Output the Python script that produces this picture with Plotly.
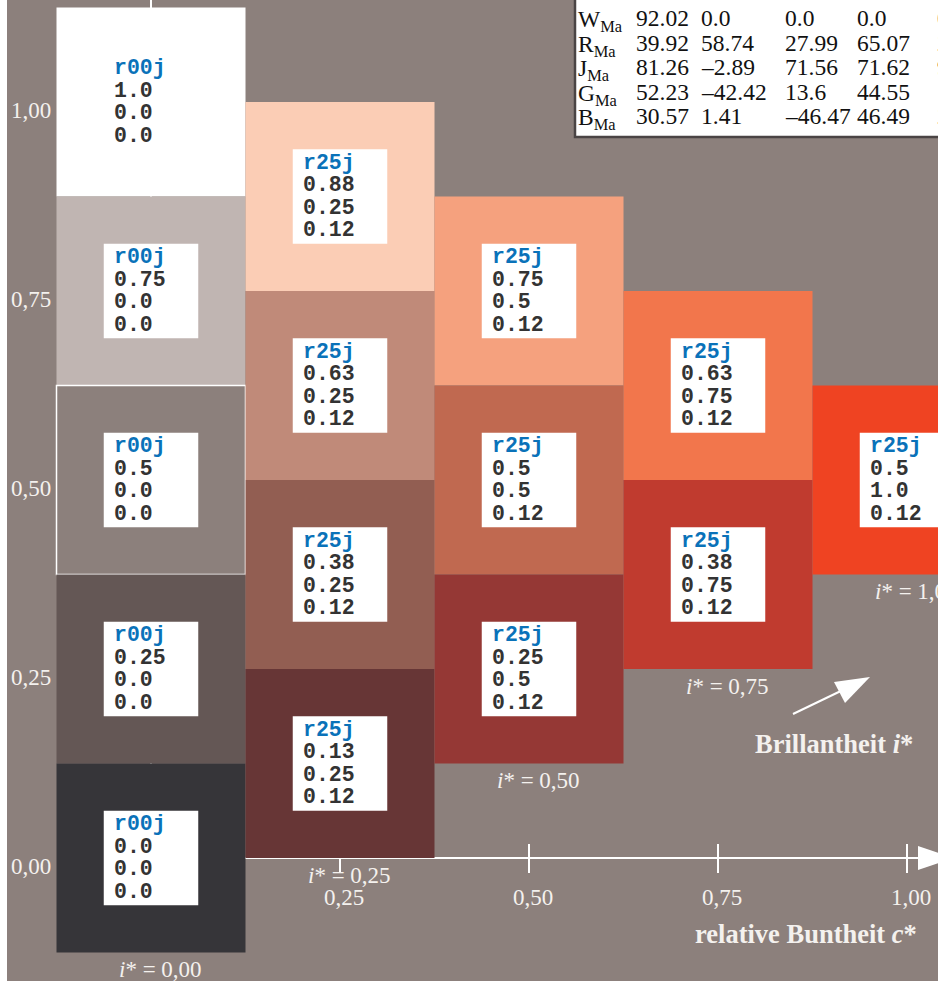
import plotly.graph_objects as go
from decimal import Decimal, ROUND_HALF_UP

# ---- colour samples: relative chroma c*, lightness, hue code ----
chroma = [0.0, 0.0, 0.0, 0.0, 0.0,
          0.25, 0.25, 0.25, 0.25,
          0.5, 0.5, 0.5,
          0.75, 0.75,
          1.0]
lightness = [1.0, 0.75, 0.5, 0.25, 0.0,
             0.875, 0.625, 0.375, 0.125,
             0.75, 0.5, 0.25,
             0.625, 0.375,
             0.5]
hue = [0.0, 0.0, 0.0, 0.0, 0.0,
       0.12, 0.12, 0.12, 0.12,
       0.12, 0.12, 0.12,
       0.12, 0.12,
       0.12]
codes = ["r00j"] * 5 + ["r25j"] * 10
fills = ["#ffffff", "#c0b5b2", "#8c807c", "#645755", "#363539",
         "#fbcdb5", "#c08a79", "#925e52", "#673636",
         "#f5a17e", "#c06950", "#953835",
         "#f2764c", "#c03b2f",
         "#ef4322"]
outlined = [False, False, True, False, False] + [False] * 10

# ---- axes ----
x_ticks = [0.25, 0.5, 0.75, 1.0]
y_ticks = [0.0, 0.25, 0.5, 0.75, 1.0]
brilliance = [0.0, 0.25, 0.5, 0.75, 1.0]

# ---- CIELAB table ----
tab_names = ["N", "W", "R", "J", "G", "B"]
tab_L = [18.01, 92.02, 39.92, 81.26, 52.23, 30.57]
tab_a = [0.0, 0.0, 58.74, -2.89, -42.42, 1.41]
tab_b = [0.0, 0.0, 27.99, 71.56, 13.6, -46.47]
tab_C = [0.0, 0.0, 65.07, 71.62, 44.55, 46.49]
tab_h = [0.0, 0.0, 25.48, 92.31, 162.22, 271.74]

BG = "#8c807c"
TXT = "#f4f1ee"
SERIF = "Liberation Serif"
MONO = "Liberation Mono"

W, H = 938, 981
LEFT = 7
OX, OY, UNIT = 151, 858, 756   # pixel position of the origin, pixels per unit


def cx(px):
    return (px - OX) / UNIT


def vy(py):
    return (OY - py) / UNIT


def dx(px):
    return px / UNIT


def fmt(v):
    q = Decimal(str(v)).quantize(Decimal("0.01"), rounding=ROUND_HALF_UP)
    s = format(q, "f").rstrip("0")
    if s.endswith("."):
        s += "0"
    return s


def comma(v):
    return f"{v:.2f}".replace(".", ",")


def num(v):
    return str(v).replace("-", "\u2013")


HALF = 0.125
BOX = 0.0625

shapes = []
ann = []

# coordinate axes (drawn beneath the colour squares)
shapes.append(dict(type="line", x0=0, x1=0, y0=vy(-20), y1=0,
                   line=dict(color="white", width=2)))
shapes.append(dict(type="line", x0=0, x1=cx(922), y0=0, y1=0,
                   line=dict(color="white", width=2)))
shapes.append(dict(type="path",
                   path=f"M {cx(918)} {vy(846)} L {cx(954)} 0 L {cx(918)} {vy(870)} Z",
                   fillcolor="white", line=dict(width=0)))
for t in x_ticks:
    shapes.append(dict(type="line", x0=t, x1=t, y0=vy(873), y1=vy(844),
                       line=dict(color="white", width=2)))

# colour squares
for c, l, col, ol in zip(chroma, lightness, fills, outlined):
    shapes.append(dict(type="rect", x0=c - HALF, x1=c + HALF,
                       y0=l - HALF, y1=l + HALF, fillcolor=col,
                       line=dict(color="white" if ol else col,
                                 width=1.5 if ol else 0)))

# white label boxes and their text
offs = [33.75, 11.25, -11.25, -33.75]
for c, l, h, code in zip(chroma, lightness, hue, codes):
    shapes.append(dict(type="rect", x0=c - BOX, x1=c + BOX,
                       y0=l - BOX, y1=l + BOX, fillcolor="white",
                       line=dict(width=0)))
    lines = [code, fmt(l), fmt(c), fmt(h)]
    for k, (txt, o) in enumerate(zip(lines, offs)):
        ann.append(dict(x=c - BOX + dx(8), y=l + dx(o), text=f"<b>{txt}</b>",
                        showarrow=False, xanchor="left", yanchor="middle",
                        font=dict(family=MONO, size=21.5,
                                  color="#0a72b9" if k == 0 else "#333333")))

# brilliance labels under each column
for b in brilliance:
    bottom = min(l for c, l in zip(chroma, lightness) if c == b) - HALF
    ann.append(dict(x=b + dx(9), y=bottom - dx(17),
                    text=f"<i>i</i>* = {comma(b)}", showarrow=False,
                    xanchor="center", yanchor="middle",
                    font=dict(family=SERIF, size=23, color=TXT)))

# tick labels
for t in x_ticks:
    ann.append(dict(x=t + dx(4), y=vy(897), text=comma(t), showarrow=False,
                    xanchor="center", yanchor="middle",
                    font=dict(family=SERIF, size=23, color=TXT)))
for t in y_ticks:
    ann.append(dict(x=cx(31), y=t - dx(8), text=comma(t), showarrow=False,
                    xanchor="center", yanchor="middle",
                    font=dict(family=SERIF, size=23, color=TXT)))

# axis titles
ann.append(dict(x=cx(806), y=vy(934), text="<b>relative Buntheit <i>c</i>*</b>",
                showarrow=False, xanchor="center", yanchor="middle",
                font=dict(family=SERIF, size=26.5, color=TXT)))
ann.append(dict(x=cx(834), y=vy(744), text="<b>Brillantheit <i>i</i>*</b>",
                showarrow=False, xanchor="center", yanchor="middle",
                font=dict(family=SERIF, size=26.5, color=TXT)))

# brilliance arrow
shapes.append(dict(type="line", x0=cx(793), y0=vy(714), x1=cx(846), y1=vy(688.5),
                   line=dict(color="white", width=2)))
shapes.append(dict(type="path",
                   path=(f"M {cx(870)} {vy(677)} L {cx(834)} {vy(682)} "
                         f"L {cx(845)} {vy(703)} Z"),
                   fillcolor="white", line=dict(width=0)))

# CIELAB table
shapes.append(dict(type="rect", x0=cx(575), x1=cx(1100), y0=vy(137), y1=vy(-60),
                   fillcolor="white", line=dict(color="#4a4444", width=2.5)))
col_x = [634, 699, 783, 855, 935]
row_y = [-7, 18, 42.5, 67, 91.5, 116]
for name, L, a, b, C, h, ry in zip(tab_names, tab_L, tab_a, tab_b, tab_C, tab_h, row_y):
    ann.append(dict(x=cx(576), y=vy(ry), yshift=-3, text=f"{name}<sub>Ma</sub>",
                    showarrow=False, xanchor="left", yanchor="middle",
                    font=dict(family=SERIF, size=23.5, color="#111111")))
    for v, px in zip([L, a, b, C, h], col_x):
        ann.append(dict(x=cx(px), y=vy(ry), text=num(v), showarrow=False,
                        xanchor="left", yanchor="middle",
                        font=dict(family=SERIF, size=23.5, color="#111111")))

fig = go.Figure()
fig.update_layout(
    width=W, height=H,
    margin=dict(l=LEFT, r=0, t=0, b=0),
    paper_bgcolor="white", plot_bgcolor=BG,
    showlegend=False,
    xaxis=dict(range=[cx(LEFT), cx(W)], showgrid=False, zeroline=False,
               showticklabels=False, showline=False, fixedrange=True),
    yaxis=dict(range=[vy(H), vy(0)], showgrid=False, zeroline=False,
               showticklabels=False, showline=False, fixedrange=True),
    shapes=shapes,
    annotations=ann,
)
fig.write_html("out.html")
